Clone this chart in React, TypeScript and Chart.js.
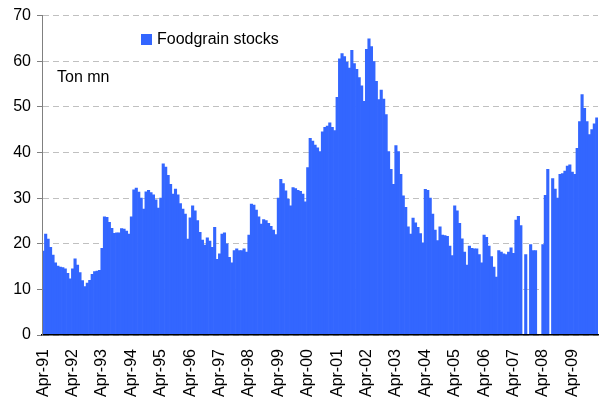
import React, { useEffect, useRef } from 'react';
import { Chart, registerables } from 'chart.js';

Chart.register(...registerables);

// ---- Data ----
const monthNames = ['Jan', 'Feb', 'Mar', 'Apr', 'May', 'Jun', 'Jul', 'Aug', 'Sep', 'Oct', 'Nov', 'Dec'];
const startYear = 1991;
const startMonthIndex = 3; // Apr

// Foodgrain stocks, ton mn, monthly from Apr-91 (null = no data)
const foodgrainStocks: (number | null)[] = [
  18.4, 22.1, 21.0, 19.2, 17.5, 15.8, 15.1, 14.9, 14.8, 14.5, 13.5, 12.3, // Apr-91
  14.5, 16.7, 15.3, 13.7, 11.9, 10.6, 11.4, 12.0, 13.3, 13.9, 14.0, 14.2, // Apr-92
  19.0, 25.9, 25.8, 24.7, 23.4, 22.3, 22.4, 22.4, 23.3, 23.2, 22.8, 22.1, // Apr-93
  25.9, 31.8, 32.2, 31.3, 30.0, 27.6, 31.4, 31.7, 31.2, 30.7, 29.6, 27.8, // Apr-94
  30.0, 37.5, 36.8, 35.0, 33.0, 30.9, 32.0, 30.7, 28.8, 27.6, 26.5, 21.0, // Apr-95
  25.7, 28.3, 27.2, 25.1, 22.5, 20.8, 19.7, 21.3, 20.6, 19.2, 23.6, 16.6, // Apr-96
  17.8, 22.1, 22.4, 20.0, 17.0, 15.8, 18.5, 18.9, 18.5, 18.5, 18.9, 18.2, // Apr-97
  21.9, 28.7, 28.5, 27.4, 25.9, 24.3, 25.3, 25.1, 24.5, 23.8, 23.0, 22.0, // Apr-98
  30.0, 34.1, 33.2, 31.6, 29.8, 28.3, 32.3, 32.1, 31.7, 31.5, 30.9, 29.2, // Apr-99
  36.7, 43.1, 42.5, 41.6, 41.0, 40.2, 44.5, 45.5, 45.8, 46.5, 45.5, 44.8, // Apr-00
  52.1, 60.5, 61.7, 61.0, 59.8, 58.5, 62.4, 59.5, 58.2, 56.4, 54.6, 51.2, // Apr-01
  62.6, 64.9, 63.2, 59.9, 55.6, 51.6, 53.7, 51.7, 48.3, 40.2, 36.3, 33.0, // Apr-02
  41.5, 40.2, 35.2, 30.5, 28.0, 23.7, 22.1, 25.6, 24.6, 23.6, 22.2, 20.2, // Apr-03
  31.9, 31.7, 30.0, 26.5, 23.0, 20.7, 23.7, 21.9, 21.8, 21.6, 19.5, 17.4, // Apr-04
  28.3, 27.2, 24.5, 21.1, 18.2, 15.3, 19.5, 19.0, 18.9, 18.9, 17.6, 15.8, // Apr-05
  21.9, 21.4, 19.5, 17.2, 14.9, 12.7, 18.5, 18.2, 17.8, 17.6, 18.2, 19.1, // Apr-06
  17.9, 25.2, 26.0, 24.0, null, 17.6, null, 19.8, 18.5, 18.5, null, null, // Apr-07
  19.8, 30.6, 36.3, null, 34.3, 32.0, 30.0, 35.2, 35.4, 35.9, 37.0, 37.3, // Apr-08
  35.7, 35.2, 40.9, 46.8, 52.7, 49.7, 46.8, 43.9, 45.0, 46.3, 47.6,       // Apr-09
];

const categories: string[] = foodgrainStocks.map((_, i) => {
  const t = startMonthIndex + i;
  const m = monthNames[t % 12];
  const y = (startYear + Math.floor(t / 12)) % 100;
  return `${m}-${String(y).padStart(2, '0')}`;
});

const yTicks = [0, 10, 20, 30, 40, 50, 60, 70];
const seriesName = 'Foodgrain stocks';
const unitLabel = 'Ton mn';

const BAR_COLOR = '#3366FF';
const FONT = '"Liberation Sans", Arial, Helvetica, sans-serif';

const overlayPlugin = {
  id: 'overlayText',
  afterDraw(chart: any) {
    const ctx = chart.ctx as CanvasRenderingContext2D;
    ctx.save();
    ctx.fillStyle = BAR_COLOR;
    ctx.fillRect(141, 34, 11, 11);
    ctx.fillStyle = '#000000';
    ctx.font = `16px ${FONT}`;
    ctx.textBaseline = 'middle';
    ctx.textAlign = 'left';
    ctx.fillText(seriesName, 157, 40);
    ctx.fillText(unitLabel, 57, 78);
    ctx.restore();
  },
};

export default function App() {
  const canvasRef = useRef<HTMLCanvasElement | null>(null);

  useEffect(() => {
    document.body.style.margin = '0';
    const canvas = canvasRef.current;
    if (!canvas) return;
    const chart = new Chart(canvas, {
      type: 'bar',
      data: {
        labels: categories,
        datasets: [
          {
            label: seriesName,
            data: foodgrainStocks as any,
            backgroundColor: BAR_COLOR,
            borderWidth: 0,
            barPercentage: 1,
            categoryPercentage: 1,
          },
        ],
      },
      options: {
        animation: false,
        responsive: false,
        devicePixelRatio: 1,
        layout: { padding: { top: 14, right: 2, left: 0, bottom: 0 } },
        plugins: {
          legend: { display: false },
          tooltip: { enabled: false },
        },
        scales: {
          x: {
            type: 'category',
            offset: true,
            grid: { display: false, drawTicks: true, tickLength: 12 },
            border: { display: true, color: '#000000', width: 1.5, z: 1 },
            ticks: {
              autoSkip: false,
              maxRotation: 90,
              minRotation: 90,
              padding: 2,
              color: '#000000',
              font: { family: FONT, size: 16 },
              callback: (_v: any, index: number) =>
                categories[index].startsWith('Apr') ? categories[index] : null,
            },
            afterFit: (scale: any) => {
              scale.height = 65;
            },
          },
          y: {
            min: 0,
            max: 70,
            afterBuildTicks: (scale: any) => {
              scale.ticks = yTicks.map((v) => ({ value: v }));
            },
            grid: {
              color: '#C0C0C0',
              lineWidth: 1,
              tickColor: '#808080',
              tickLength: 5,
              drawTicks: true,
            },
            border: { display: true, color: '#808080', width: 1, dash: [6, 4], z: 1 },
            ticks: {
              padding: 6,
              color: '#000000',
              font: { family: FONT, size: 16 },
            },
            afterFit: (scale: any) => {
              scale.width = 42;
            },
          },
        },
      },
      plugins: [overlayPlugin],
    });
    return () => chart.destroy();
  }, []);

  return (
    <div style={{ position: 'absolute', left: 0, top: 0, width: 600, height: 400 }}>
      <canvas ref={canvasRef} width={600} height={400} style={{ width: 600, height: 400 }} />
    </div>
  );
}
